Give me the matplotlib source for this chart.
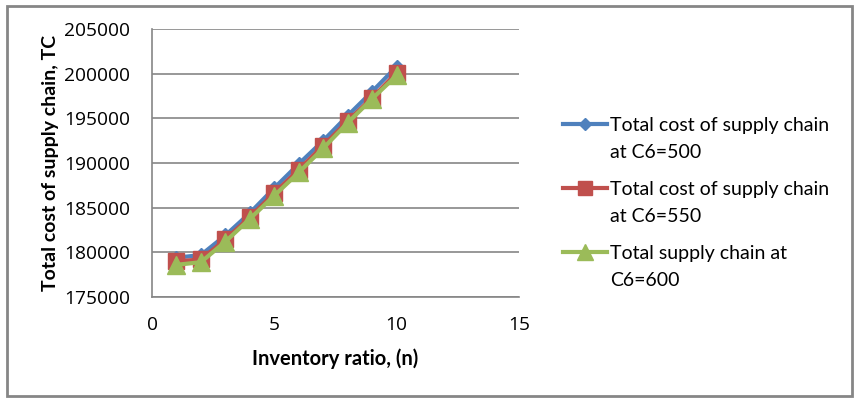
import matplotlib
matplotlib.use("Agg")
import matplotlib.pyplot as plt
from matplotlib.patches import Rectangle
from matplotlib.lines import Line2D

n = [1, 2, 3, 4, 5, 6, 7, 8, 9, 10]
tc_500 = [179400, 179700, 181900, 184400, 187200, 189900, 192500, 195300, 198000, 200800]
tc_550 = [179000, 179200, 181450, 183950, 186650, 189250, 191950, 194700, 197300, 200100]
tc_600 = [178600, 178900, 181200, 183750, 186350, 188950, 191650, 194500, 197200, 199800]
labels = ["Total cost of supply chain\nat C6=500",
          "Total cost of supply chain\nat C6=550",
          "Total supply chain at\nC6=600"]
xticks = [0, 5, 10, 15]
yticks = [175000, 180000, 185000, 190000, 195000, 200000, 205000]

plt.rcParams['font.family'] = ['Lato', 'DejaVu Sans']

W, H = 857, 403
fig = plt.figure(figsize=(W / 100, H / 100), dpi=100)
ax = fig.add_axes([152/W, 1-297/H, (519-152)/W, (297-29)/H])

styles = [dict(color='#4F81BD', lw=3, marker='D', ms=7, zorder=3),
          dict(color='#C0504D', lw=3, marker='s', ms=12, zorder=4),
          dict(color='#9BBB59', lw=3, marker='^', ms=13, zorder=5)]
series = [tc_500, tc_550, tc_600]
for ys, st in zip(series, styles):
    ax.plot(n, ys, **st)

ax.set_xlim(0, 15)
ax.set_ylim(175000, 205000)
ax.set_xticks(xticks)
ax.set_yticks(yticks)
ax.set_xticklabels([str(v) for v in xticks], family=['Open Sans', 'DejaVu Sans'], fontsize=13.8)
ax.set_yticklabels([str(v) for v in yticks], family=['Open Sans', 'DejaVu Sans'], fontsize=13.8)
ax.grid(axis='y', color='#868686', lw=1.2)
ax.set_axisbelow(True)
for s in ['top', 'right']:
    ax.spines[s].set_visible(False)
for s in ['left', 'bottom']:
    ax.spines[s].set_color('#868686')
    ax.spines[s].set_linewidth(1.2)
ax.tick_params(axis='both', length=0, colors='black')
ax.tick_params(axis='x', pad=14)
ax.tick_params(axis='y', pad=16)

ax.set_xlabel("Inventory ratio, (n)", fontsize=14.5, fontweight='bold', labelpad=10)
ax.set_ylabel("Total cost of supply chain, TC", fontsize=14, fontweight='bold', labelpad=3.5)

# legend (drawn in figure pixels)
first_y = [124, 188, 252]
line_gap = 26.5
for lab, st, y0 in zip(labels, styles, first_y):
    fy = 1 - y0 / H
    fig.add_artist(Line2D([563/W, 585/W, 607/W], [fy, fy, fy], transform=fig.transFigure,
                          color=st['color'], lw=3, marker=st['marker'],
                          ms=st['ms'] * 0.85, markevery=[1]))
    for j, line in enumerate(lab.split('\n')):
        fig.text(610/W, 1 - (y0 + 7 + j * line_gap) / H, line, fontsize=14,
                 va='baseline', ha='left')

fig.patches.append(Rectangle((7/W, 1-396/H), (852-7)/W, (396-6)/H,
                             transform=fig.transFigure, fill=False,
                             edgecolor='#868686', lw=2))

fig.savefig('out.png', dpi=100)
